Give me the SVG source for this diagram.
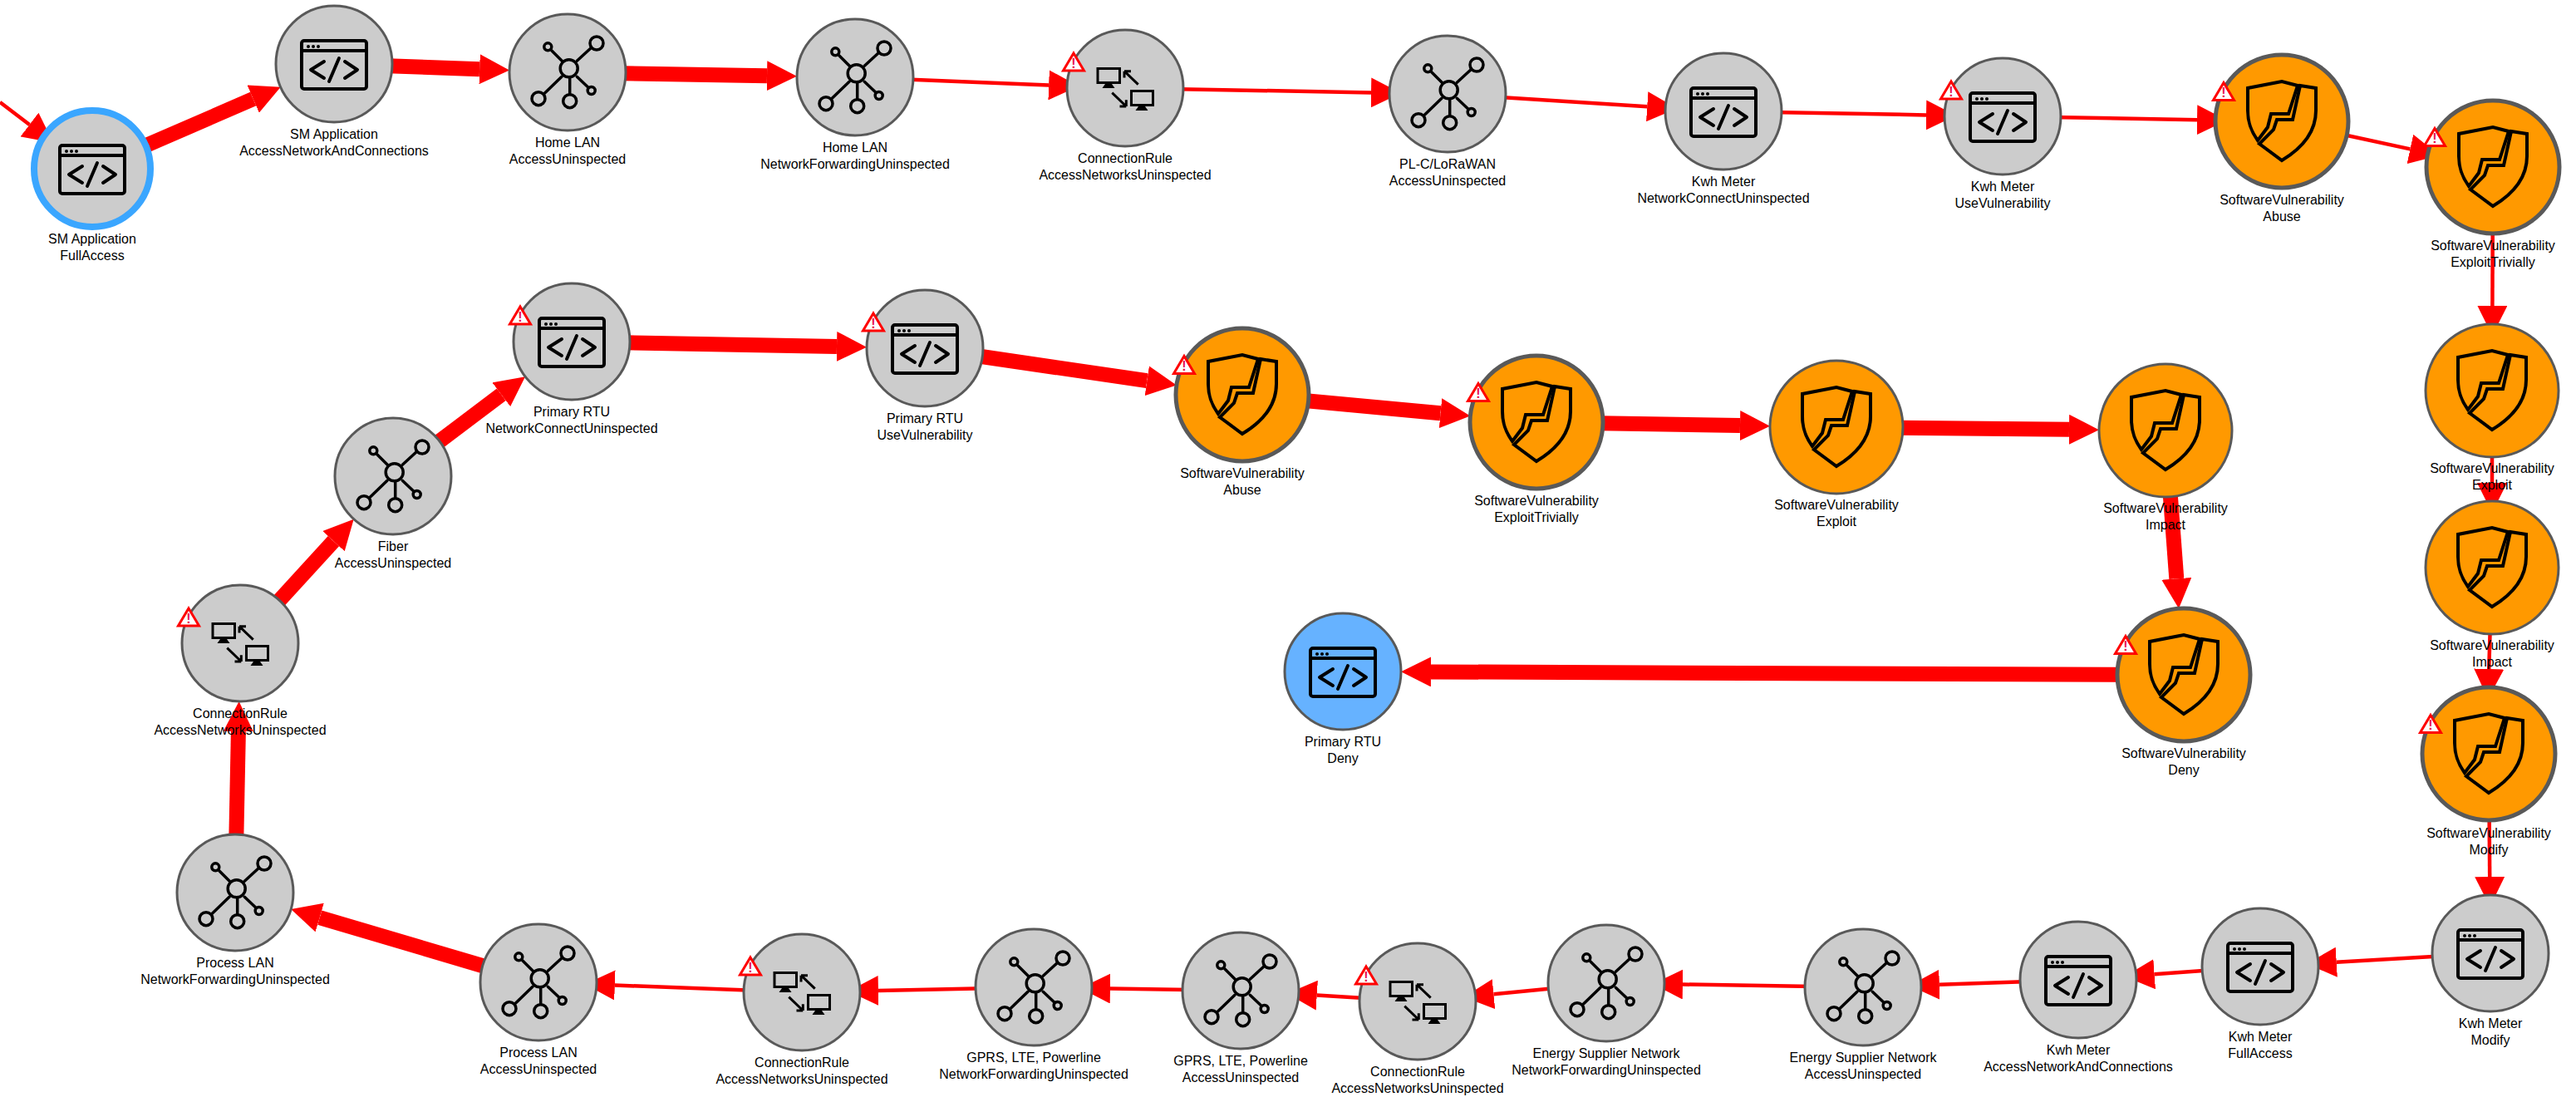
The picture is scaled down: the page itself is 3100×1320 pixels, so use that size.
<svg xmlns="http://www.w3.org/2000/svg" xmlns:xlink="http://www.w3.org/1999/xlink" width="3100" height="1320" viewBox="0 0 3100 1320">
<style>
text{font-family:"Liberation Sans",Arial,sans-serif;font-size:16px;fill:#000;text-anchor:middle}
.c{stroke:#595959;stroke-width:3}
.grey{fill:#ccc}.orange{fill:#f90}.blue{fill:#66b2ff}
.heavy{stroke-width:5}
.start{stroke:#3aa6ff;stroke-width:8}
.e{stroke:#f00;fill:none;marker-end:url(#ah)}
.t{stroke-width:4.5}.b{stroke-width:18}
.i{fill:none;stroke:#000;stroke-width:4;stroke-linecap:round;stroke-linejoin:round}
.w polygon{fill:#fff;stroke:#f00;stroke-width:3}
.w text{fill:#e8104f;font-size:16px;font-weight:bold}
</style>
<defs>
<marker id="ah" markerUnits="userSpaceOnUse" markerWidth="36" markerHeight="36" refX="0" refY="18" orient="auto"><path d="M0,0L36,18L0,36z" fill="#f00"/></marker>
<g id="code" class="i"><rect x="-39" y="-28" width="78" height="58" rx="3"/><path d="M-39,-16H39"/><path d="M-12,-3L-28,7L-12,17M13,-3L28,7L13,17M6,-7L-6,21"/><g fill="#000" stroke="none"><circle cx="-31" cy="-21" r="2"/><circle cx="-25" cy="-21" r="2"/><circle cx="-19" cy="-21" r="2"/></g></g>
<g id="hub" class="i" style="stroke-width:3.500px"><circle cx="1.700" cy="-4.700" r="10.500"/><circle cx="35" cy="-35" r="8"/><circle cx="-23.700" cy="-30.700" r="4.500"/><circle cx="-35" cy="31.700" r="8"/><circle cx="2.700" cy="34.700" r="8"/><circle cx="28.700" cy="22" r="4.500"/><path d="M11.300,-13.700L28.700,-29.700M-6,-13L-19,-26M-7,5.300L-27.700,25.300M2.700,7V26M11.300,5.300L24.700,18"/></g>
<g id="rule" class="i" style="stroke-width:3px;stroke-linecap:butt;stroke-linejoin:miter"><rect x="-33" y="-23.500" width="26.500" height="17"/><rect x="7.500" y="3.500" width="26" height="17"/><path d="M15.700,-4.300L-1,-20.300M-1,-20.300V-12.500M-1,-20.300H7M-15.700,5.700L1.300,22M1.300,22V14.200M1.300,22H-6.500"/><g fill="#000" stroke="none"><polygon points="-27.500,0 -12.500,0 -16,-5 -24,-5"/><polygon points="12.500,27 27.500,27 24,22 16,22"/></g></g>
<g id="shield" class="i" style="stroke-linecap:butt;stroke-linejoin:miter"><path d="M-29,23C-37,12 -41,2 -41,-13V-40L0,-48L19,-43L8,-9H-13L-17,7Z"/><path d="M22,-43L41,-40V-13C41,12 25,32 0,47L-27,27L-10,10L-6,-2H13Z"/></g>
</defs>
<g id="connectors">
<line class="e t" x1="0" y1="123" x2="35.500" y2="150"/>
<line class="e b" x1="111" y1="203" x2="304.700" y2="119.100"/>
<line class="e b" x1="402" y1="77" x2="577.100" y2="83.200"/>
<line class="e b" x1="683" y1="87" x2="923" y2="91.200"/>
<line class="e t" x1="1029" y1="93" x2="1262.100" y2="102.400"/>
<line class="e t" x1="1354" y1="106" x2="1650" y2="111.400"/>
<line class="e t" x1="1742" y1="113" x2="1982.200" y2="128.200"/>
<line class="e t" x1="2074" y1="134" x2="2318" y2="138.400"/>
<line class="e t" x1="2410" y1="140" x2="2644" y2="144.200"/>
<line class="e t" x1="2746" y1="146" x2="2900.400" y2="179.400"/>
<line class="e t" x1="3000" y1="201" x2="2999.400" y2="368"/>
<line class="e t" x1="2999" y1="470" x2="2999" y2="581"/>
<line class="e t" x1="2999" y1="683" x2="2995.200" y2="805"/>
<line class="e t" x1="2995" y1="907" x2="2996.200" y2="1055"/>
<line class="e t" x1="2997" y1="1147" x2="2811.800" y2="1157.700"/>
<line class="e t" x1="2720" y1="1163" x2="2592.700" y2="1172.300"/>
<line class="e t" x1="2501" y1="1179" x2="2333.900" y2="1184.800"/>
<line class="e t" x1="2242" y1="1188" x2="2025" y2="1184.500"/>
<line class="e t" x1="1933" y1="1183" x2="1797.500" y2="1196.200"/>
<line class="e t" x1="1706" y1="1205" x2="1584.800" y2="1197.600"/>
<line class="e t" x1="1493" y1="1192" x2="1336" y2="1189.500"/>
<line class="e t" x1="1244" y1="1188" x2="1057" y2="1192"/>
<line class="e t" x1="965" y1="1194" x2="739.900" y2="1185.500"/>
<line class="e b" x1="648" y1="1182" x2="384.700" y2="1104.100"/>
<line class="e b" x1="283" y1="1074" x2="286.900" y2="880"/>
<line class="e b" x1="289" y1="774" x2="401.400" y2="651.200"/>
<line class="e b" x1="473" y1="573" x2="603.300" y2="474.800"/>
<line class="e b" x1="688" y1="411" x2="1007" y2="417"/>
<line class="e b" x1="1113" y1="419" x2="1380.300" y2="458.200"/>
<line class="e b" x1="1495" y1="475" x2="1733.500" y2="497.200"/>
<line class="e b" x1="1849" y1="508" x2="2094" y2="512.100"/>
<line class="e b" x1="2210" y1="514" x2="2490" y2="516.800"/>
<line class="e b" x1="2606" y1="518" x2="2619.300" y2="696.300"/>
<line class="e b" x1="2628" y1="812" x2="1722" y2="808.400"/>
</g>
<g id="n01" transform="translate(111,203)"><circle class="c grey start" r="70"/><use href="#code"/><text y="90">SM Application</text><text y="110">FullAccess</text></g>
<g id="n02" transform="translate(402,77)"><circle class="c grey" r="70"/><use href="#code"/><text y="90">SM Application</text><text y="110">AccessNetworkAndConnections</text></g>
<g id="n03" transform="translate(683,87)"><circle class="c grey" r="70"/><use href="#hub"/><text y="90">Home LAN</text><text y="110">AccessUninspected</text></g>
<g id="n04" transform="translate(1029,93)"><circle class="c grey" r="70"/><use href="#hub"/><text y="90">Home LAN</text><text y="110">NetworkForwardingUninspected</text></g>
<g id="n05" transform="translate(1354,106)"><circle class="c grey" r="70"/><use href="#rule"/><g class="w" transform="translate(-62,-42)"><polygon points="0,0 12.500,21 -12.500,21"/><text y="17.500">!</text></g><text y="90">ConnectionRule</text><text y="110">AccessNetworksUninspected</text></g>
<g id="n06" transform="translate(1742,113)"><circle class="c grey" r="70"/><use href="#hub"/><text y="90">PL-C/LoRaWAN</text><text y="110">AccessUninspected</text></g>
<g id="n07" transform="translate(2074,134)"><circle class="c grey" r="70"/><use href="#code"/><text y="90">Kwh Meter</text><text y="110">NetworkConnectUninspected</text></g>
<g id="n08" transform="translate(2410,140)"><circle class="c grey" r="70"/><use href="#code"/><g class="w" transform="translate(-62,-42)"><polygon points="0,0 12.500,21 -12.500,21"/><text y="17.500">!</text></g><text y="90">Kwh Meter</text><text y="110">UseVulnerability</text></g>
<g id="n09" transform="translate(2746,146)"><circle class="c orange heavy" r="80"/><use href="#shield"/><g class="w" transform="translate(-70,-46.500)"><polygon points="0,0 12.500,21 -12.500,21"/><text y="17.500">!</text></g><text y="100">SoftwareVulnerability</text><text y="120">Abuse</text></g>
<g id="n10" transform="translate(3000,201)"><circle class="c orange heavy" r="80"/><use href="#shield"/><g class="w" transform="translate(-70,-46.500)"><polygon points="0,0 12.500,21 -12.500,21"/><text y="17.500">!</text></g><text y="100">SoftwareVulnerability</text><text y="120">ExploitTrivially</text></g>
<g id="n11" transform="translate(2999,470)"><circle class="c orange" r="80"/><use href="#shield"/><text y="99">SoftwareVulnerability</text><text y="119">Exploit</text></g>
<g id="n12" transform="translate(2999,683)"><circle class="c orange" r="80"/><use href="#shield"/><text y="99">SoftwareVulnerability</text><text y="119">Impact</text></g>
<g id="n13" transform="translate(2995,907)"><circle class="c orange heavy" r="80"/><use href="#shield"/><g class="w" transform="translate(-70,-46.500)"><polygon points="0,0 12.500,21 -12.500,21"/><text y="17.500">!</text></g><text y="101">SoftwareVulnerability</text><text y="121">Modify</text></g>
<g id="n14" transform="translate(2997,1147)"><circle class="c grey" r="70"/><use href="#code"/><text y="90">Kwh Meter</text><text y="110">Modify</text></g>
<g id="n15" transform="translate(2720,1163)"><circle class="c grey" r="70"/><use href="#code"/><text y="90">Kwh Meter</text><text y="110">FullAccess</text></g>
<g id="n16" transform="translate(2501,1179)"><circle class="c grey" r="70"/><use href="#code"/><text y="90">Kwh Meter</text><text y="110">AccessNetworkAndConnections</text></g>
<g id="n17" transform="translate(2242,1188)"><circle class="c grey" r="70"/><use href="#hub"/><text y="90">Energy Supplier Network</text><text y="110">AccessUninspected</text></g>
<g id="n18" transform="translate(1933,1183)"><circle class="c grey" r="70"/><use href="#hub"/><text y="90">Energy Supplier Network</text><text y="110">NetworkForwardingUninspected</text></g>
<g id="n19" transform="translate(1706,1205)"><circle class="c grey" r="70"/><use href="#rule"/><g class="w" transform="translate(-62,-42)"><polygon points="0,0 12.500,21 -12.500,21"/><text y="17.500">!</text></g><text y="90">ConnectionRule</text><text y="110">AccessNetworksUninspected</text></g>
<g id="n20" transform="translate(1493,1192)"><circle class="c grey" r="70"/><use href="#hub"/><text y="90">GPRS, LTE, Powerline</text><text y="110">AccessUninspected</text></g>
<g id="n21" transform="translate(1244,1188)"><circle class="c grey" r="70"/><use href="#hub"/><text y="90">GPRS, LTE, Powerline</text><text y="110">NetworkForwardingUninspected</text></g>
<g id="n22" transform="translate(965,1194)"><circle class="c grey" r="70"/><use href="#rule"/><g class="w" transform="translate(-62,-42)"><polygon points="0,0 12.500,21 -12.500,21"/><text y="17.500">!</text></g><text y="90">ConnectionRule</text><text y="110">AccessNetworksUninspected</text></g>
<g id="n23" transform="translate(648,1182)"><circle class="c grey" r="70"/><use href="#hub"/><text y="90">Process LAN</text><text y="110">AccessUninspected</text></g>
<g id="n24" transform="translate(283,1074)"><circle class="c grey" r="70"/><use href="#hub"/><text y="90">Process LAN</text><text y="110">NetworkForwardingUninspected</text></g>
<g id="n25" transform="translate(289,774)"><circle class="c grey" r="70"/><use href="#rule"/><g class="w" transform="translate(-62,-42)"><polygon points="0,0 12.500,21 -12.500,21"/><text y="17.500">!</text></g><text y="90">ConnectionRule</text><text y="110">AccessNetworksUninspected</text></g>
<g id="n26" transform="translate(473,573)"><circle class="c grey" r="70"/><use href="#hub"/><text y="90">Fiber</text><text y="110">AccessUninspected</text></g>
<g id="n27" transform="translate(688,411)"><circle class="c grey" r="70"/><use href="#code"/><g class="w" transform="translate(-62,-42)"><polygon points="0,0 12.500,21 -12.500,21"/><text y="17.500">!</text></g><text y="90">Primary RTU</text><text y="110">NetworkConnectUninspected</text></g>
<g id="n28" transform="translate(1113,419)"><circle class="c grey" r="70"/><use href="#code"/><g class="w" transform="translate(-62,-42)"><polygon points="0,0 12.500,21 -12.500,21"/><text y="17.500">!</text></g><text y="90">Primary RTU</text><text y="110">UseVulnerability</text></g>
<g id="n29" transform="translate(1495,475)"><circle class="c orange heavy" r="80"/><use href="#shield"/><g class="w" transform="translate(-70,-46.500)"><polygon points="0,0 12.500,21 -12.500,21"/><text y="17.500">!</text></g><text y="100">SoftwareVulnerability</text><text y="120">Abuse</text></g>
<g id="n30" transform="translate(1849,508)"><circle class="c orange heavy" r="80"/><use href="#shield"/><g class="w" transform="translate(-70,-46.500)"><polygon points="0,0 12.500,21 -12.500,21"/><text y="17.500">!</text></g><text y="100">SoftwareVulnerability</text><text y="120">ExploitTrivially</text></g>
<g id="n31" transform="translate(2210,514)"><circle class="c orange" r="80"/><use href="#shield"/><text y="99">SoftwareVulnerability</text><text y="119">Exploit</text></g>
<g id="n32" transform="translate(2606,518)"><circle class="c orange" r="80"/><use href="#shield"/><text y="99">SoftwareVulnerability</text><text y="119">Impact</text></g>
<g id="n33" transform="translate(2628,812)"><circle class="c orange heavy" r="80"/><use href="#shield"/><g class="w" transform="translate(-70,-46.500)"><polygon points="0,0 12.500,21 -12.500,21"/><text y="17.500">!</text></g><text y="100">SoftwareVulnerability</text><text y="120">Deny</text></g>
<g id="n34" transform="translate(1616,808)"><circle class="c blue" r="70"/><use href="#code"/><text y="90">Primary RTU</text><text y="110">Deny</text></g>
</svg>
